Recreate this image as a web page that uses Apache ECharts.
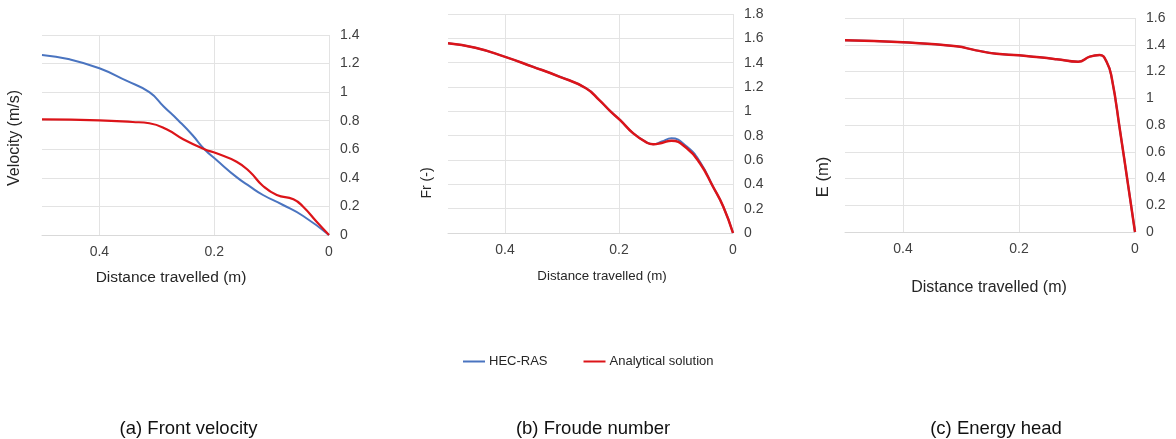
<!DOCTYPE html>
<html>
<head>
<meta charset="utf-8">
<script src="https://cdn.jsdelivr.net/npm/echarts@6/dist/echarts.min.js"></script>
<style>
html,body{margin:0;padding:0;background:#fff;}
#chart{width:1176px;height:439px;}
</style>
</head>
<body>
<div id="chart"></div>
<script>
// Panel (a) Front velocity
const velHecX = [0.5, 0.452, 0.4, 0.353, 0.313, 0.288, 0.262, 0.238, 0.217, 0.196, 0.161, 0.138, 0.115, 0.08, 0.045, 0];
const velHecY = [1.26, 1.23, 1.167, 1.08, 1.0, 0.9, 0.8, 0.7, 0.6, 0.525, 0.405, 0.34, 0.28, 0.21, 0.133, 0];
const velAnaX = [0.5, 0.4, 0.342, 0.313, 0.283, 0.254, 0.217, 0.196, 0.161, 0.138, 0.115, 0.091, 0.062, 0.045, 0.0215, 0];
const velAnaY = [0.81, 0.803, 0.791, 0.782, 0.74, 0.67, 0.6, 0.572, 0.513, 0.443, 0.343, 0.28, 0.25, 0.198, 0.093, 0];
// Panel (b) Froude number
const frX = [0.5, 0.452, 0.401, 0.352, 0.305, 0.258, 0.234, 0.215, 0.198, 0.175, 0.151, 0.14, 0.125, 0.108, 0.081, 0.058, 0.035, 0.017, 0];
const frHecY = [1.559, 1.523, 1.45, 1.368, 1.286, 1.19, 1.09, 1.0, 0.928, 0.819, 0.742, 0.729, 0.752, 0.778, 0.71, 0.585, 0.38, 0.216, 0];
const frAnaY = [1.559, 1.523, 1.45, 1.368, 1.286, 1.19, 1.09, 1.0, 0.928, 0.819, 0.742, 0.729, 0.74, 0.759, 0.696, 0.573, 0.38, 0.216, 0];
// Panel (c) Energy head
const eX = [0.5, 0.4, 0.308, 0.274, 0.239, 0.2, 0.1645, 0.135, 0.098, 0.078, 0.061, 0.049, 0.04, 0.026, 0.0115, 0];
const eHecY = [1.433, 1.418, 1.388, 1.358, 1.333, 1.321, 1.306, 1.292, 1.273, 1.311, 1.323, 1.273, 1.149, 0.763, 0.339, 0];
const eAnaY = [1.433, 1.418, 1.388, 1.358, 1.333, 1.321, 1.306, 1.292, 1.273, 1.311, 1.323, 1.273, 1.149, 0.763, 0.339, 0];

const yMax = [1.4, 1.8, 1.6];
const seriesNames = ['HEC-RAS', 'Analytical solution'];
const yTitles = ['Velocity (m/s)', 'Fr (-)', 'E (m)'];
const xTitle = 'Distance travelled (m)';
const captions = ['(a) Front velocity', '(b) Froude number', '(c) Energy head'];

const zip = (xs, ys) => xs.map((x, i) => [x, ys[i]]);
const BLUE = '#4a74c0', RED = '#dc1419';
const FONT = '"Liberation Sans", Arial, sans-serif';
const TXT = '#404040';

const grids = [
  {left: 42, width: 287, top: 35, height: 200},
  {left: 448, width: 285, top: 14, height: 219},
  {left: 845, width: 290, top: 18, height: 214}
];

const xAxes = grids.map((g, i) => ({
  type: 'value', gridIndex: i, min: 0, max: 0.5, interval: 0.2, inverse: true,
  axisLine: {show: true, lineStyle: {color: '#d9d9d9', width: 1}},
  axisTick: {show: false},
  axisLabel: {showMaxLabel: false, color: TXT, fontSize: 14, fontFamily: FONT, margin: 10},
  splitLine: {show: true, showMaxLine: false, lineStyle: {color: '#e3e3e3', width: 1}}
}));
const yAxes = grids.map((g, i) => ({
  type: 'value', gridIndex: i, position: 'right', min: 0, max: yMax[i], interval: 0.2,
  axisLine: {show: false}, axisTick: {show: false},
  axisLabel: {color: TXT, fontSize: 14, fontFamily: FONT, margin: 11},
  splitLine: {show: true, lineStyle: {color: '#e3e3e3', width: 1}}
}));

function line(name, data, idx, color, w, z) {
  return {name, type: 'line', xAxisIndex: idx, yAxisIndex: idx, data, smooth: 0.5,
    showSymbol: false, symbol: 'none', lineStyle: {color, width: w}, itemStyle: {color}, z};
}

const series = [
  line(seriesNames[0], zip(velHecX, velHecY), 0, BLUE, 2, 2),
  line(seriesNames[1], zip(velAnaX, velAnaY), 0, RED, 2.2, 3),
  line(seriesNames[0], zip(frX, frHecY), 1, BLUE, 2, 2),
  line(seriesNames[1], zip(frX, frAnaY), 1, RED, 2.5, 3),
  line(seriesNames[0], zip(eX, eHecY), 2, BLUE, 2, 2),
  line(seriesNames[1], zip(eX, eAnaY), 2, RED, 2.5, 3)
];

const yTitlePos = [[15, 138, 16], [427, 183, 14], [823, 177, 16.5]];
const xTitlePos = [[171, 278, 15.5], [602, 276, 13.3], [989, 288, 16]];
const capX = [188.5, 593, 996];

const graphic = [];
yTitles.forEach((t, i) => {
  const p = yTitlePos[i];
  graphic.push({type: 'text', x: p[0], y: p[1], rotation: Math.PI / 2,
    style: {text: t, fill: '#262626', font: p[2] + 'px ' + FONT, align: 'center', verticalAlign: 'middle'}});
});
xTitlePos.forEach((p) => {
  graphic.push({type: 'text', x: p[0], y: p[1],
    style: {text: xTitle, fill: '#262626', font: p[2] + 'px ' + FONT, align: 'center', verticalAlign: 'middle'}});
});
captions.forEach((c, i) => {
  graphic.push({type: 'text', x: capX[i], y: 429,
    style: {text: c, fill: '#111', font: '18.5px ' + FONT, align: 'center', verticalAlign: 'middle'}});
});

const chart = echarts.init(document.getElementById('chart'), null, {renderer: 'canvas'});
chart.setOption({
  animation: false,
  backgroundColor: '#fff',
  grid: grids,
  xAxis: xAxes,
  yAxis: yAxes,
  legend: {
    left: 458, top: 350, itemWidth: 22, itemHeight: 2, itemGap: 36, icon: 'rect',
    data: [{name: seriesNames[0], itemStyle: {color: BLUE}}, {name: seriesNames[1], itemStyle: {color: RED}}],
    textStyle: {color: '#262626', fontSize: 13, fontFamily: FONT, padding: [0, 0, 0, -1]}
  },
  graphic,
  series
});
</script>
</body>
</html>
